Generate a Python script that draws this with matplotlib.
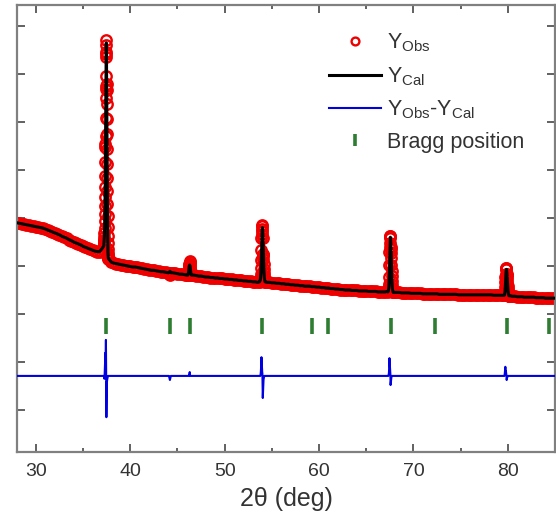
import matplotlib
matplotlib.use("Agg")
import matplotlib.pyplot as plt
from matplotlib.ticker import MultipleLocator
import numpy as np

plt.rcParams["font.family"] = ["Liberation Sans", "DejaVu Sans"]
plt.rcParams["mathtext.fontset"] = "custom"
plt.rcParams["mathtext.rm"] = "Liberation Sans"
plt.rcParams["mathtext.it"] = "Liberation Sans:italic"
plt.rcParams["mathtext.bf"] = "Liberation Sans:bold"

# --- background scan, 0.25 deg step from 28 to 85 deg (obs == cal here) ---
bg_2theta = np.round(np.arange(28.0, 85.001, 0.25), 2)
bg_int = [
    3.90, 3.89, 3.88, 3.87,  3.86, 3.85, 3.84, 3.83,  3.82, 3.81, 3.80, 3.79,   # 28-30
    3.77, 3.75, 3.73, 3.71,  3.69, 3.67, 3.65, 3.62,  3.60, 3.58, 3.55, 3.53,   # 31-33
    3.50, 3.48, 3.46, 3.44,  3.41, 3.39, 3.37, 3.35,  3.33, 3.31, 3.30, 3.30,   # 34-36
    3.36, 3.45, 3.30, 3.14,  3.08, 3.06, 3.05, 3.04,  3.03, 3.02, 3.01, 3.00,   # 37-39
    2.99, 2.98, 2.98, 2.97,  2.96, 2.95, 2.94, 2.93,  2.92, 2.91, 2.91, 2.90,   # 40-42
    2.89, 2.88, 2.88, 2.87,  2.86, 2.87, 2.86, 2.85,  2.84, 2.83, 2.83, 2.82,   # 43-45
    2.81, 2.88, 2.90, 2.81,  2.80, 2.79, 2.79, 2.78,  2.77, 2.77, 2.76, 2.76,   # 46-48
    2.75, 2.75, 2.74, 2.74,  2.73, 2.73, 2.72, 2.72,  2.71, 2.71, 2.70, 2.70,   # 49-51
    2.69, 2.69, 2.68, 2.68,  2.67, 2.67, 2.66, 2.70,  2.90, 2.70, 2.66, 2.66,   # 52-54
    2.65, 2.65, 2.64, 2.64,  2.63, 2.63, 2.62, 2.62,  2.61, 2.61, 2.60, 2.60,   # 55-57
    2.59, 2.59, 2.58, 2.58,  2.58, 2.57, 2.57, 2.56,  2.56, 2.55, 2.55, 2.54,   # 58-60
    2.54, 2.53, 2.53, 2.52,  2.52, 2.51, 2.51, 2.50,  2.50, 2.50, 2.49, 2.49,   # 61-63
    2.49, 2.48, 2.48, 2.48,  2.48, 2.47, 2.47, 2.47,  2.47, 2.46, 2.46, 2.46,   # 64-66
    2.46, 2.47, 2.60, 2.70,  2.45, 2.45, 2.45, 2.44,  2.44, 2.44, 2.44, 2.43,   # 67-69
    2.43, 2.43, 2.43, 2.43,  2.42, 2.42, 2.42, 2.42,  2.42, 2.42, 2.42, 2.41,   # 70-72
    2.41, 2.41, 2.41, 2.41,  2.41, 2.41, 2.41, 2.40,  2.40, 2.40, 2.40, 2.40,   # 73-75
    2.40, 2.40, 2.40, 2.40,  2.40, 2.40, 2.40, 2.40,  2.40, 2.40, 2.39, 2.39,   # 76-78
    2.39, 2.39, 2.39, 2.40,  2.60, 2.38, 2.37, 2.37,  2.36, 2.36, 2.36, 2.35,   # 79-81
    2.35, 2.35, 2.35, 2.35,  2.34, 2.34, 2.34, 2.34,  2.33, 2.33, 2.33, 2.33,   # 82-84
    2.33,                                                                       # 85
]

# --- peak regions: fine scan, calculated profile and obs-cal difference ---
p37_2theta = np.round(np.arange(37.20, 37.705, 0.01), 2)
p37_cal = [3.42, 3.45, 3.48, 3.52, 3.56, 3.60, 3.66, 3.72, 3.80, 3.88,
           3.98, 4.10, 4.24, 4.40, 4.58, 4.78, 5.00, 5.24, 5.50, 5.78,
           6.06, 6.36, 6.66, 6.96, 7.26, 7.52, 7.65, 7.55, 7.35, 7.10,
           6.82, 6.50, 6.18, 5.86, 5.54, 5.22, 4.92, 4.62, 4.34, 4.08,
           3.84, 3.64, 3.48, 3.36, 3.28, 3.22, 3.19, 3.17, 3.16, 3.15, 3.15]
p37_diff = [0, 0, 0, 0, -0.03, -0.05, -0.06, -0.04, 0.0, 0.05,
            0.10, 0.15, 0.20, 0.25, 0.30, 0.38, 0.48, 0.30, 0.20, 0.30,
            0.45, 0.60, 0.75, 0.50, 0.35, 0.19, -0.30, -0.86, -0.60, -0.30,
            -0.15, -0.12, -0.12, -0.12, -0.10, -0.10, -0.08, -0.06, -0.05, -0.04,
            -0.03, -0.02, -0.01, 0, 0, 0, 0, 0, 0, 0, 0]

p44_2theta = np.round(np.arange(44.10, 44.305, 0.05), 2)
p44_cal = [2.86, 2.87, 2.89, 2.88, 2.86]
p44_diff = [0, -0.04, -0.085, -0.04, 0]

p46_2theta = np.round(np.arange(46.10, 46.505, 0.02), 2)
p46_cal = [2.81, 2.82, 2.83, 2.85, 2.88, 2.92, 2.96, 2.99, 3.01, 3.02, 3.02,
           3.01, 2.99, 2.96, 2.92, 2.88, 2.85, 2.83, 2.82, 2.81, 2.81]
p46_diff = [0, 0, 0, 0, 0, 0, 0.02, 0.03, 0.04, 0.06, 0.08,
            0.03, 0, 0, 0, 0, 0, 0, 0, 0, 0]

p54_2theta = np.round(np.arange(53.70, 54.305, 0.02), 2)
p54_cal = [2.67, 2.68, 2.69, 2.70, 2.72, 2.75, 2.79, 2.85, 2.94, 3.06,
           3.20, 3.36, 3.52, 3.66, 3.76, 3.80, 3.78, 3.70, 3.58, 3.43,
           3.27, 3.12, 2.99, 2.89, 2.81, 2.76, 2.72, 2.70, 2.68, 2.67, 2.67]
p54_diff = [0, 0, 0, 0, 0, 0.02, 0.05, 0.10, 0.18, 0.27,
            0.39, 0.30, 0.20, 0.12, 0.08, 0.05, -0.20, -0.46, -0.35, -0.20,
            -0.12, -0.08, -0.05, -0.03, -0.02, 0, 0, 0, 0, 0, 0]

p67_2theta = np.round(np.arange(67.30, 67.905, 0.02), 2)
p67_cal = [2.46, 2.47, 2.48, 2.50, 2.53, 2.58, 2.66, 2.78, 2.93, 3.10,
           3.28, 3.44, 3.55, 3.60, 3.58, 3.50, 3.38, 3.23, 3.07, 2.92,
           2.79, 2.69, 2.61, 2.55, 2.51, 2.49, 2.47, 2.46, 2.46, 2.45, 2.45]
p67_diff = [0, 0, 0, 0.02, 0.05, 0.05, 0.12, 0.25, 0.37, 0.30,
            0.20, 0.15, 0.08, 0.03, -0.19, -0.15, -0.10, -0.06, -0.04, -0.02,
            0, 0, 0, 0, 0, 0, 0, 0, 0, 0, 0]

p80_2theta = np.round(np.arange(79.60, 80.205, 0.02), 2)
p80_cal = [2.39, 2.39, 2.40, 2.41, 2.43, 2.46, 2.51, 2.58, 2.66, 2.75,
           2.83, 2.89, 2.92, 2.93, 2.91, 2.87, 2.81, 2.74, 2.66, 2.59,
           2.53, 2.48, 2.45, 2.42, 2.40, 2.39, 2.38, 2.38, 2.38, 2.38, 2.38]
p80_diff = [0, 0, 0, 0.02, 0.05, 0.10, 0.15, 0.19, 0.12, 0.08,
            0.10, 0.06, 0.03, 0.0, -0.085, -0.06, -0.04, -0.03, -0.02, -0.01,
            0, 0, 0, 0, 0, 0, 0, 0, 0, 0, 0]

bragg_2theta = [37.4, 44.2, 46.3, 54.0, 59.3, 61.0, 67.6, 72.3, 79.9, 84.4]

DIFF_OFFSET = 0.71
BRAGG_LEVEL = 1.74

# merge background with the fine peak scans
segments = [(p37_2theta, p37_cal, p37_diff), (p44_2theta, p44_cal, p44_diff),
            (p46_2theta, p46_cal, p46_diff), (p54_2theta, p54_cal, p54_diff),
            (p67_2theta, p67_cal, p67_diff), (p80_2theta, p80_cal, p80_diff)]
bg_int = np.array(bg_int)
keep = np.ones(len(bg_2theta), dtype=bool)
for t, c, d in segments:
    keep &= ~((bg_2theta >= t[0] - 1e-6) & (bg_2theta <= t[-1] + 1e-6))
tt = [bg_2theta[keep]] + [s[0] for s in segments]
cc = [bg_int[keep]] + [np.array(s[1]) for s in segments]
dd = [np.zeros(keep.sum())] + [np.array(s[2]) for s in segments]
tt, cc, dd = np.concatenate(tt), np.concatenate(cc), np.concatenate(dd)
order = np.argsort(tt)
two_theta, y_cal, y_diff = tt[order], cc[order], dd[order]
y_obs = y_cal + y_diff

fig = plt.figure(figsize=(5.56, 5.21), dpi=100)
ax = fig.add_axes([17/556, 69/521, 538/556, 447/521])

ax.plot(two_theta, y_obs, ls="none", marker="o", ms=7.5, mfc="none", mec="#ee0000",
        mew=1.7, label=r"Y$_{\mathrm{Obs}}$", zorder=2)
ax.plot(two_theta, y_cal, "-", color="black", lw=2.2, label=r"Y$_{\mathrm{Cal}}$", zorder=3)
ax.plot(two_theta, y_diff + DIFF_OFFSET, "-", color="#0000e0", lw=1.5,
        label=r"Y$_{\mathrm{Obs}}$-Y$_{\mathrm{Cal}}$", zorder=3)
ax.plot(bragg_2theta, [BRAGG_LEVEL] * len(bragg_2theta), ls="none", marker="|", ms=12,
        mew=2.6, color="#2e7d32", label="Bragg position", zorder=3)

ax.set_xlim(28, 85)
ax.set_ylim(-0.875, 8.4375)
ax.xaxis.set_major_locator(MultipleLocator(10))
ax.xaxis.set_minor_locator(MultipleLocator(5))
ax.yaxis.set_major_locator(MultipleLocator(1))
ax.tick_params(which="both", direction="in", top=True, right=True, color="#555555", width=1.3)
ax.tick_params(which="major", length=6)
ax.tick_params(which="minor", length=3)
ax.tick_params(axis="x", labelsize=14, labelcolor="#333333", pad=8)
ax.tick_params(axis="y", labelleft=False)
for sp in ax.spines.values():
    sp.set_color("#808080")
    sp.set_linewidth(1.6)

ax.set_xlabel("2θ (deg)", fontsize=18, color="#333333", labelpad=5)

leg = ax.legend(loc="upper left", bbox_to_anchor=(0.58, 0.94), frameon=False, fontsize=15.5,
                handlelength=2.4, handletextpad=0.3, labelspacing=0.5, borderpad=0,
                borderaxespad=0, markerscale=0.75)
for txt in leg.get_texts():
    txt.set_color("#333333")

fig.savefig("out.png", dpi=100)
